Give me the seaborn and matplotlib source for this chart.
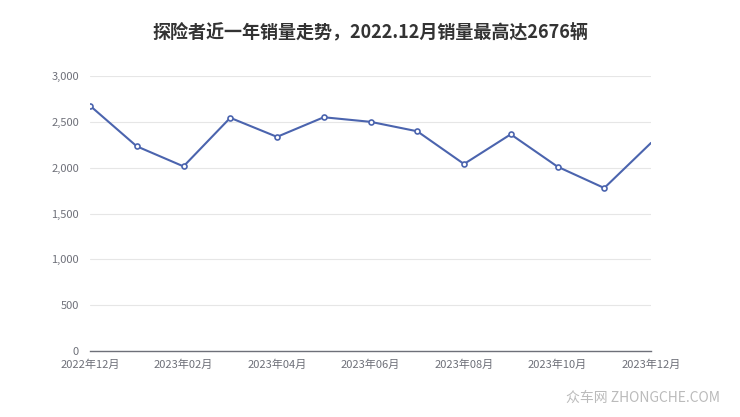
import matplotlib.pyplot as plt
import seaborn as sns
import pandas as pd

months = ["2022年12月", "2023年01月", "2023年02月", "2023年03月", "2023年04月",
          "2023年05月", "2023年06月", "2023年07月", "2023年08月", "2023年09月",
          "2023年10月", "2023年11月", "2023年12月"]
sales = [2676, 2233, 2014, 2544, 2336, 2550, 2500, 2397, 2040, 2364, 2011, 1778, 2270]
yticks = [0, 500, 1000, 1500, 2000, 2500, 3000]

sns.set_style("white")
plt.rcParams['font.family'] = ['Noto Sans CJK SC', 'DejaVu Sans']

df = pd.DataFrame({"idx": range(len(months)), "month": months, "sales": sales})

fig = plt.figure(figsize=(7.4, 4.17), dpi=100)
ax = fig.add_axes([90 / 740, 1 - 351 / 417, (651 - 90) / 740, (351 - 76) / 417])

line_color = "#4b64ae"
sns.lineplot(data=df, x="idx", y="sales", ax=ax, color=line_color, linewidth=1.5,
             marker="o", markersize=3.6, markerfacecolor="white",
             markeredgecolor=line_color, markeredgewidth=1.2,
             markevery=list(range(len(months) - 1)), zorder=3)

ax.set_xlim(0, len(months) - 1)
ax.set_ylim(0, 3000)
ax.set_yticks(yticks)
ax.set_yticklabels([f"{v:,}" for v in yticks])
ax.set_xticks(df["idx"][::2])
ax.set_xticklabels(df["month"][::2])
ax.set_xlabel("")
ax.set_ylabel("")

ax.grid(axis="y", color="#e6e6e6", linewidth=0.8)
for side in ["top", "right", "left"]:
    ax.spines[side].set_visible(False)
ax.spines["bottom"].set_color("#6e7079")
ax.spines["bottom"].set_linewidth(1)
ax.tick_params(axis="x", colors="#6e7079", labelsize=8, length=4, width=1, direction="out", pad=2)
ax.tick_params(axis="y", colors="#6e7079", labelsize=8, length=0, pad=8)
for lbl in ax.get_xticklabels() + ax.get_yticklabels():
    lbl.set_color("#6e7079")

fig.text(370 / 740, 1 - 32 / 417, "探险者近一年销量走势，2022.12月销量最高达2676辆",
         ha="center", va="center", fontsize=13, fontweight="bold", color="#333333")
fig.text(720 / 740, 1 - 398 / 417, "众车网 ZHONGCHE.COM", ha="right", va="center",
         fontsize=10, color="#bbbbbb")

fig.savefig("out.png", dpi=100)
